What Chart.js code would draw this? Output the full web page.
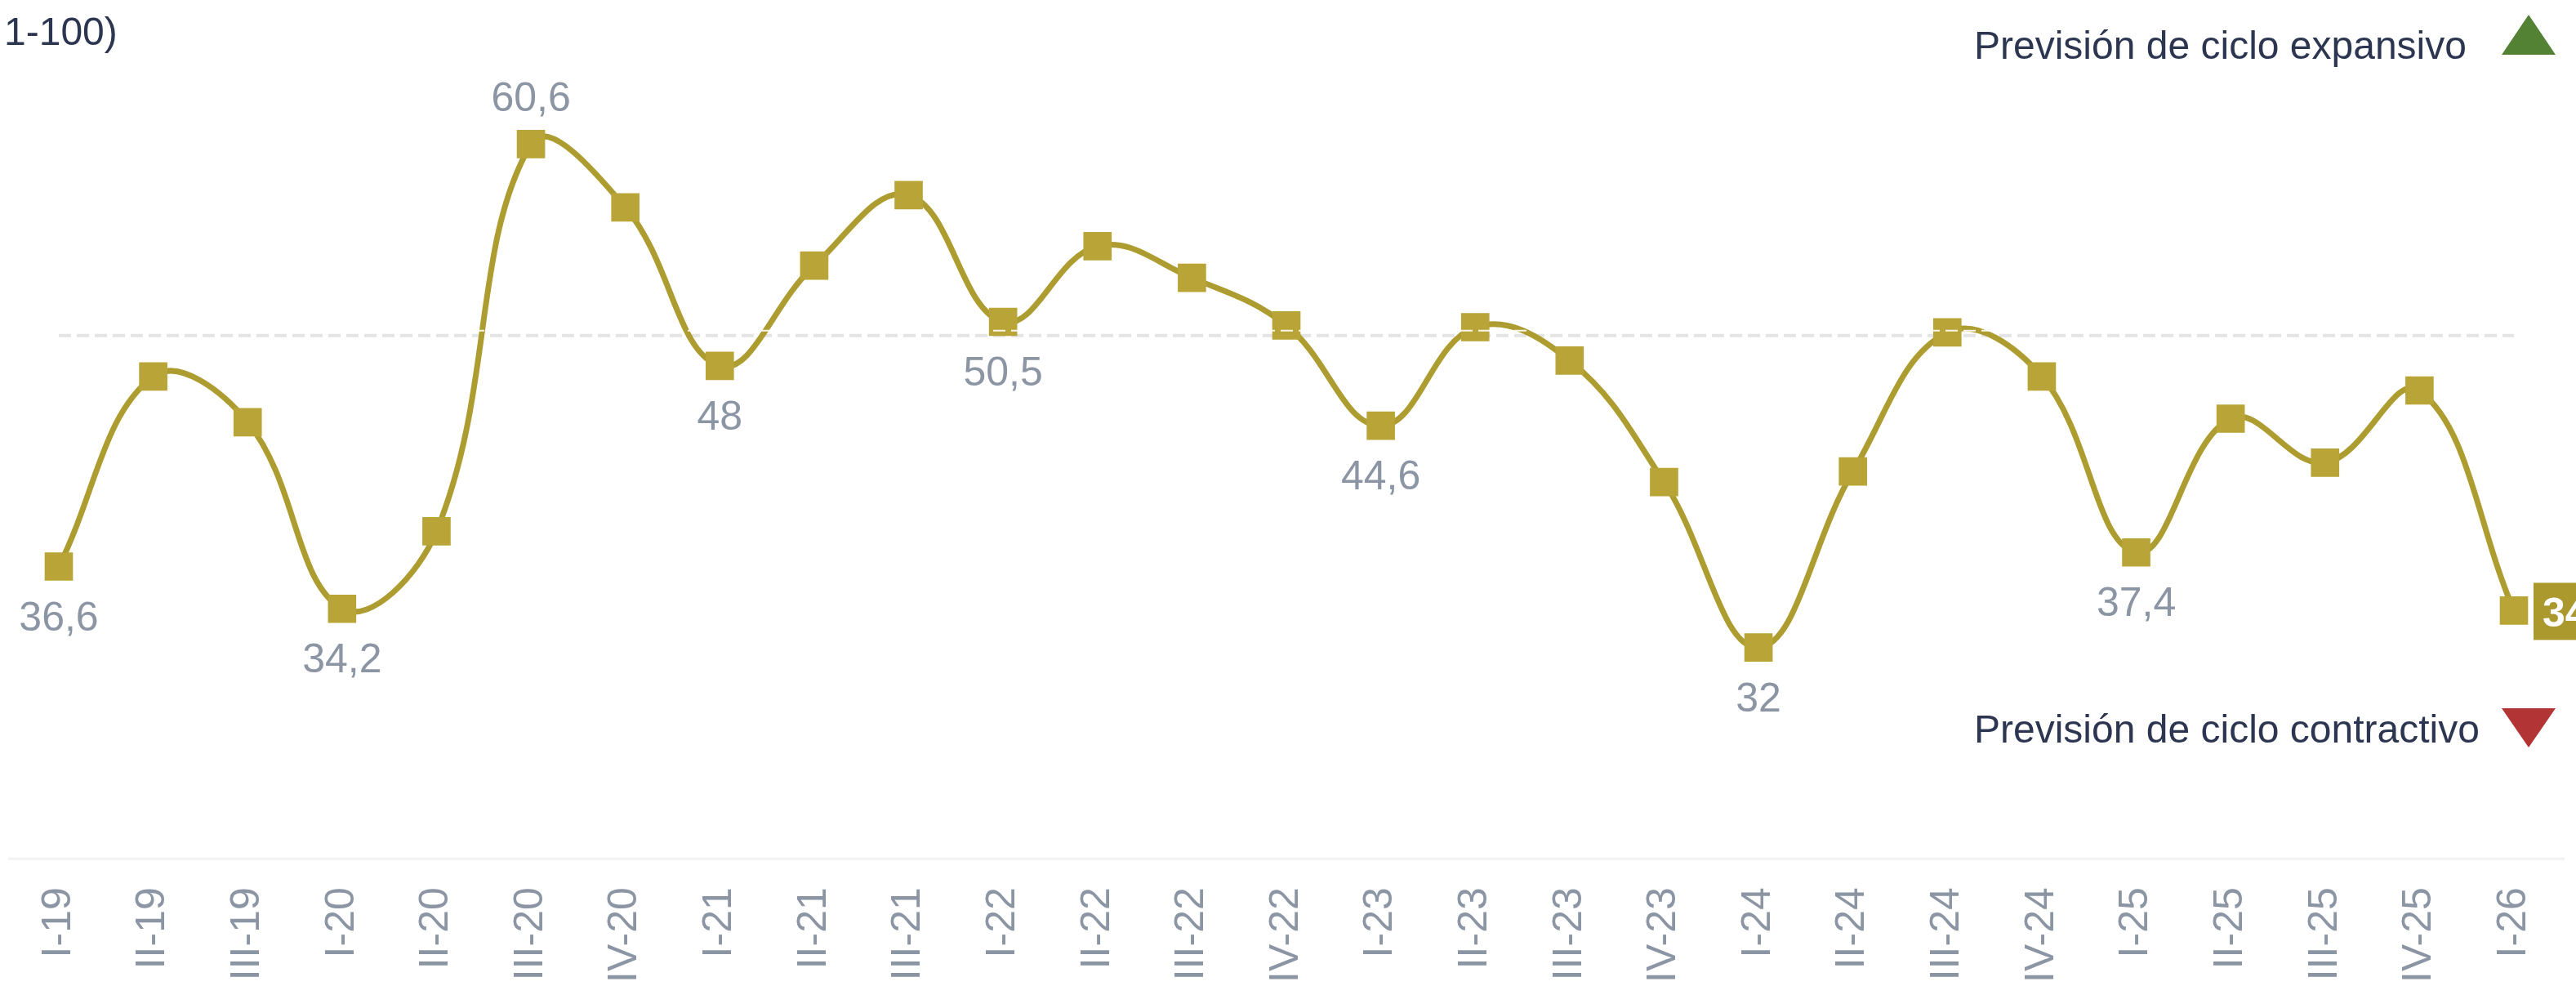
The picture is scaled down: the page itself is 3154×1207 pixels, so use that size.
<!DOCTYPE html>
<html>
<head>
<meta charset="utf-8">
<script src="https://cdn.jsdelivr.net/npm/chart.js@4.4.1/dist/chart.umd.min.js"></script>
<style>
	html, body { margin: 0; padding: 0; background: #fff; overflow: hidden; }
	#wrap { position: relative; width: 3173px; height: 1245px; }
</style>
</head>
<body>
<div id="wrap"><canvas id="cycleChart"></canvas></div>
<script>
const quarters = ["I-19", "II-19", "III-19", "I-20", "II-20", "III-20", "IV-20", "I-21", "II-21", "III-21",
	"I-22", "II-22", "III-22", "IV-22", "I-23", "II-23", "III-23", "IV-23", "I-24", "II-24",
	"III-24", "IV-24", "I-25", "II-25", "III-25", "IV-25", "I-26"];
const indexValues = [36.6, 47.4, 44.8, 34.2, 38.6, 60.6, 57.0, 48, 53.7, 57.7,
	50.5, 54.8, 53.0, 50.3, 44.6, 50.2, 48.3, 41.4, 32, 42.0,
	49.9, 47.4, 37.4, 45.0, 42.5, 46.6, 34.1];
const labelledBelow = [0, 3, 7, 10, 14, 18, 22];
const labelledAbove = [5];
const neutralLevel = 50;
const axisMin = 20;
const axisMax = 66;

const titleText = "1-100)";
const expansiveText = "Previsión de ciclo expansivo";
const contractiveText = "Previsión de ciclo contractivo";

const FONT = "'Liberation Sans', Arial, sans-serif";
const INK = "#2d3651";
const GREY = "#8b95a4";
const GOLD_LINE = "#ad9c2f";
const GOLD_POINT = "#b9a537";
const GOLD_BOX = "#ab992e";

function fmt(v) {
	return String(v).replace(".", ",");
}

// reference line at the neutral level, gray dashes under the series and light dashes over it
const neutralLine = {
	id: "neutralLine",
	beforeDatasetsDraw(chart) {
		const { ctx, chartArea, scales } = chart;
		const y = scales.y.getPixelForValue(neutralLevel);
		ctx.save();
		ctx.strokeStyle = "#e4e4e4";
		ctx.lineWidth = 4;
		ctx.setLineDash([15, 7]);
		ctx.beginPath();
		ctx.moveTo(chartArea.left, y + 6);
		ctx.lineTo(chartArea.right, y + 6);
		ctx.stroke();
		ctx.restore();
		// bottom rule
		ctx.save();
		ctx.strokeStyle = "#f2f2f2";
		ctx.lineWidth = 3;
		ctx.beginPath();
		ctx.moveTo(10, chartArea.bottom);
		ctx.lineTo(3140, chartArea.bottom);
		ctx.stroke();
		ctx.restore();
	},
	afterDatasetsDraw(chart) {
		const { ctx, chartArea, scales } = chart;
		const y = scales.y.getPixelForValue(neutralLevel);
		ctx.save();
		ctx.strokeStyle = "rgba(255,255,255,0.9)";
		ctx.lineWidth = 2;
		ctx.setLineDash([15, 7]);
		ctx.beginPath();
		ctx.moveTo(chartArea.left, y);
		ctx.lineTo(chartArea.right, y);
		ctx.stroke();
		ctx.restore();
	},
};

const valueLabels = {
	id: "valueLabels",
	afterDatasetsDraw(chart) {
		const { ctx } = chart;
		const pts = chart.getDatasetMeta(0).data;
		ctx.save();
		ctx.font = "50px " + FONT;
		ctx.fillStyle = GREY;
		ctx.textAlign = "center";
		ctx.textBaseline = "alphabetic";
		labelledBelow.forEach(i => {
			ctx.fillText(fmt(indexValues[i]), pts[i].x, pts[i].y + 78);
		});
		labelledAbove.forEach(i => {
			ctx.fillText(fmt(indexValues[i]), pts[i].x, pts[i].y - 40);
		});
		// last value in a filled box
		const last = indexValues.length - 1;
		const p = pts[last];
		ctx.font = "bold 50px " + FONT;
		const w = ctx.measureText(fmt(indexValues[last])).width + 24;
		ctx.fillStyle = GOLD_BOX;
		ctx.fillRect(p.x + 24, p.y - 34, w, 70);
		ctx.fillStyle = "#fff";
		ctx.textAlign = "left";
		ctx.fillText(fmt(indexValues[last]), p.x + 35, p.y + 20);
		ctx.restore();
	},
};

const sideNotes = {
	id: "sideNotes",
	afterDraw(chart) {
		const { ctx } = chart;
		ctx.save();
		ctx.font = "48px " + FONT;
		ctx.fillStyle = INK;
		ctx.textAlign = "left";
		ctx.textBaseline = "alphabetic";
		ctx.fillText(titleText, 5, 55);
		ctx.fillText(expansiveText, 2417, 72);
		ctx.fillText(contractiveText, 2417, 909);

		ctx.fillStyle = "#548235";
		ctx.beginPath();
		ctx.moveTo(3063, 67);
		ctx.lineTo(3129, 67);
		ctx.lineTo(3096, 18);
		ctx.closePath();
		ctx.fill();

		ctx.fillStyle = "#b23434";
		ctx.beginPath();
		ctx.moveTo(3063, 867);
		ctx.lineTo(3129, 867);
		ctx.lineTo(3096, 915);
		ctx.closePath();
		ctx.fill();
		ctx.restore();
	},
};

new Chart(document.getElementById("cycleChart"), {
	type: "line",
	data: {
		labels: quarters,
		datasets: [{
			data: indexValues,
			borderColor: GOLD_LINE,
			borderWidth: 7,
			tension: 0.4,
			pointStyle: "rect",
			pointRadius: 24.5,
			pointBackgroundColor: GOLD_POINT,
			pointBorderColor: GOLD_POINT,
			pointBorderWidth: 0,
			clip: false,
		}],
	},
	options: {
		responsive: true,
		maintainAspectRatio: false,
		animation: false,
		events: [],
		layout: { padding: { left: 72, right: 76, top: 60, bottom: 7 } },
		plugins: { legend: { display: false }, tooltip: { enabled: false } },
		scales: {
			x: {
				offset: false,
				grid: { display: false, drawTicks: false },
				border: { display: false },
				ticks: {
					autoSkip: false,
					minRotation: 90,
					maxRotation: 90,
					padding: 35,
					color: GREY,
					font: { family: FONT, size: 50 },
				},
			},
			y: {
				display: false,
				min: axisMin,
				max: axisMax,
			},
		},
	},
	plugins: [neutralLine, valueLabels, sideNotes],
});
</script>
</body>
</html>
